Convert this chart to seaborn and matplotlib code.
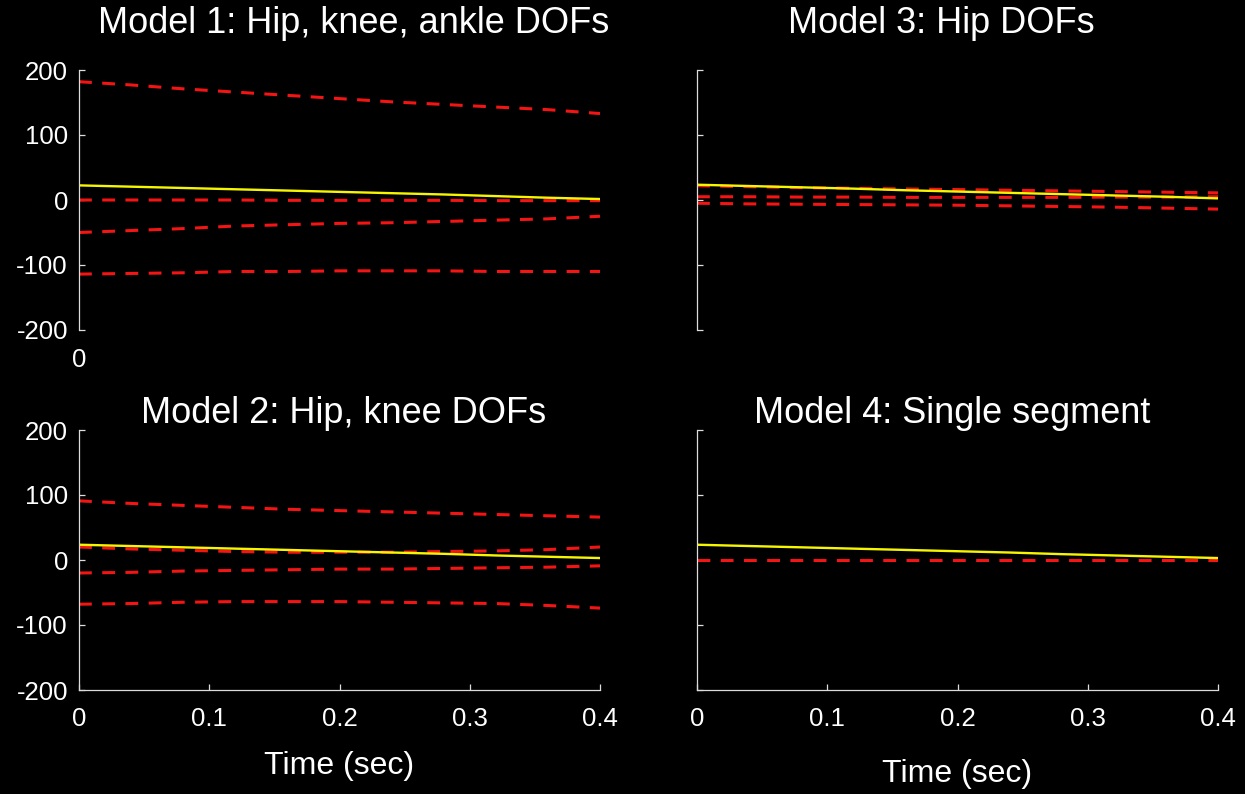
import numpy as np
import pandas as pd
import matplotlib
matplotlib.use("Agg")
import matplotlib.pyplot as plt
import seaborn as sns

# ---------------- data ----------------
time = [0.00, 0.04, 0.08, 0.12, 0.16, 0.20, 0.24, 0.28, 0.32, 0.36, 0.40]

# Model 1: Hip, knee, ankle DOFs
m1_actual = [22.5, 20.5, 18.5, 16.5, 14.5, 12.5, 10.5, 8.5, 6.0, 3.5, 1.5]
m1_red_a = [182, 177, 171, 166, 161, 156, 151, 147, 143, 139, 133]
m1_red_b = [0, 0, 0, 0, -0.5, -0.5, -0.5, -0.5, -1, -1, -1]
m1_red_c = [-50, -47, -44, -40, -38, -36, -35, -33, -31, -29, -25]
m1_red_d = [-114, -113, -112, -110, -110, -109, -109, -109, -110, -110, -110]

# Model 2: Hip, knee DOFs
m2_actual = [23.5, 21.5, 19.5, 17.5, 15.5, 13.5, 11.5, 9.5, 7.0, 5.0, 3.0]
m2_red_a = [91, 87, 84, 81, 78, 76, 74, 72, 70, 68, 66]
m2_red_b = [20, 17, 15, 13, 12, 12, 12, 13, 14, 16, 20]
m2_red_c = [-20, -19, -17, -16, -15, -14, -14, -13, -12, -11, -9]
m2_red_d = [-68, -67, -65, -64, -64, -64, -65, -66, -67, -70, -74]

# Model 3: Hip DOFs
m3_actual = [23.5, 21.5, 19.5, 17.5, 15.0, 13.0, 11.0, 9.0, 7.0, 5.0, 2.5]
m3_red_a = [22, 20.5, 19, 18, 17, 16, 15, 14, 13, 12, 11]
m3_red_b = [5, 5, 4.5, 4.5, 4, 4, 4, 4, 4.5, 4.5, 5]
m3_red_c = [-5, -6, -6.5, -7, -7.5, -8, -9, -10, -11, -12.5, -14]

# Model 4: Single segment
m4_actual = [23.5, 21.5, 19.5, 17.5, 15.5, 13.5, 11.5, 9.0, 7.0, 5.0, 3.0]
m4_red_a = [0, 0, 0, 0, 0, 0, 0, 0, 0, 0, 0]

titles = ["Model 1: Hip, knee, ankle DOFs", "Model 3: Hip DOFs",
          "Model 2: Hip, knee DOFs", "Model 4: Single segment"]
y_ticks = [-200, -100, 0, 100, 200]
x_ticks = [0, 0.1, 0.2, 0.3, 0.4]
x_ticklabels = ["0", "0.1", "0.2", "0.3", "0.4"]
xlabel = "Time (sec)"

# ---------------- style ----------------
sns.set_theme(style="white")
plt.rcParams['font.family'] = ['Liberation Sans', 'DejaVu Sans']
plt.rcParams.update({
    "figure.facecolor": "black",
    "axes.facecolor": "black",
    "savefig.facecolor": "black",
    "text.color": "white",
    "axes.labelcolor": "white",
    "xtick.color": "white",
    "ytick.color": "white",
    "axes.unicode_minus": False,
})

RED = "#f41414"
YEL = "#f6f600"
SPINE = "#dcdcdc"

fig = plt.figure(figsize=(12.45, 7.94), dpi=100)
W, H = 1245, 794


def add_axes(left, top, right, bottom):
    return fig.add_axes([left / W, 1 - bottom / H, (right - left) / W, (bottom - top) / H])


ax_tl = add_axes(79, 70, 600, 330)
ax_tr = add_axes(697, 70, 1218, 330)
ax_bl = add_axes(79, 430, 600, 690)
ax_br = add_axes(697, 430, 1218, 690)

panels = [
    (ax_tl, m1_actual, [m1_red_a, m1_red_b, m1_red_c, m1_red_d]),
    (ax_tr, m3_actual, [m3_red_a, m3_red_b, m3_red_c]),
    (ax_bl, m2_actual, [m2_red_a, m2_red_b, m2_red_c, m2_red_d]),
    (ax_br, m4_actual, [m4_red_a]),
]

for ax, actual, reds in panels:
    for r in reds:
        sns.lineplot(x=time, y=r, ax=ax, color=RED, linewidth=2.2,
                     dashes=False, estimator=None)
        ax.lines[-1].set_dashes((4.2, 3.4))
    sns.lineplot(x=time, y=actual, ax=ax, color=YEL, linewidth=1.7, estimator=None)
    ax.set_xlim(0, 0.4)
    ax.set_ylim(-200, 200)
    for s in ["top", "right"]:
        ax.spines[s].set_visible(False)
    for s in ["left", "bottom"]:
        ax.spines[s].set_color(SPINE)
        ax.spines[s].set_linewidth(0.9)
    ax.set_yticks(y_ticks)
    ax.tick_params(axis="both", direction="in", length=4.5, width=0.9,
                   color=SPINE, labelsize=18.5, pad=8,
                   left=True, bottom=True, top=False, right=False)
    ax.set_xlabel("")
    ax.set_ylabel("")
    ax.grid(False)

title_pos = {ax_tl: (0.528, 1.18), ax_tr: (0.468, 1.18),
             ax_bl: (0.507, 1.062), ax_br: (0.489, 1.062)}
for ax, t in zip([ax_tl, ax_tr, ax_bl, ax_br], titles):
    x, y = title_pos[ax]
    ax.text(x, y, t, transform=ax.transAxes, ha="center", va="center",
            fontsize=26, color="white")

# top-left: only "0" at bottom, no bottom spine
ax_tl.spines["bottom"].set_visible(False)
ax_tl.set_xticks([0])
ax_tl.set_xticklabels(["0"])
ax_tl.tick_params(axis="x", length=0, pad=13)

# top-right: no labels, no x axis
ax_tr.spines["bottom"].set_visible(False)
ax_tr.set_xticks([])
ax_tr.set_yticklabels([])

# bottom-left
ax_bl.set_xticks(x_ticks)
ax_bl.set_xticklabels(x_ticklabels)
ax_bl.tick_params(axis="x", pad=12)
ax_bl.set_xlabel(xlabel, fontsize=23)
ax_bl.xaxis.set_label_coords(0.5, -0.235)

# bottom-right
ax_br.set_xticks(x_ticks)
ax_br.set_xticklabels(x_ticklabels)
ax_br.set_yticklabels([])
ax_br.tick_params(axis="x", pad=12)
ax_br.set_xlabel(xlabel, fontsize=23)
ax_br.xaxis.set_label_coords(0.5, -0.265)

fig.savefig("out.png", dpi=100, facecolor="black")
